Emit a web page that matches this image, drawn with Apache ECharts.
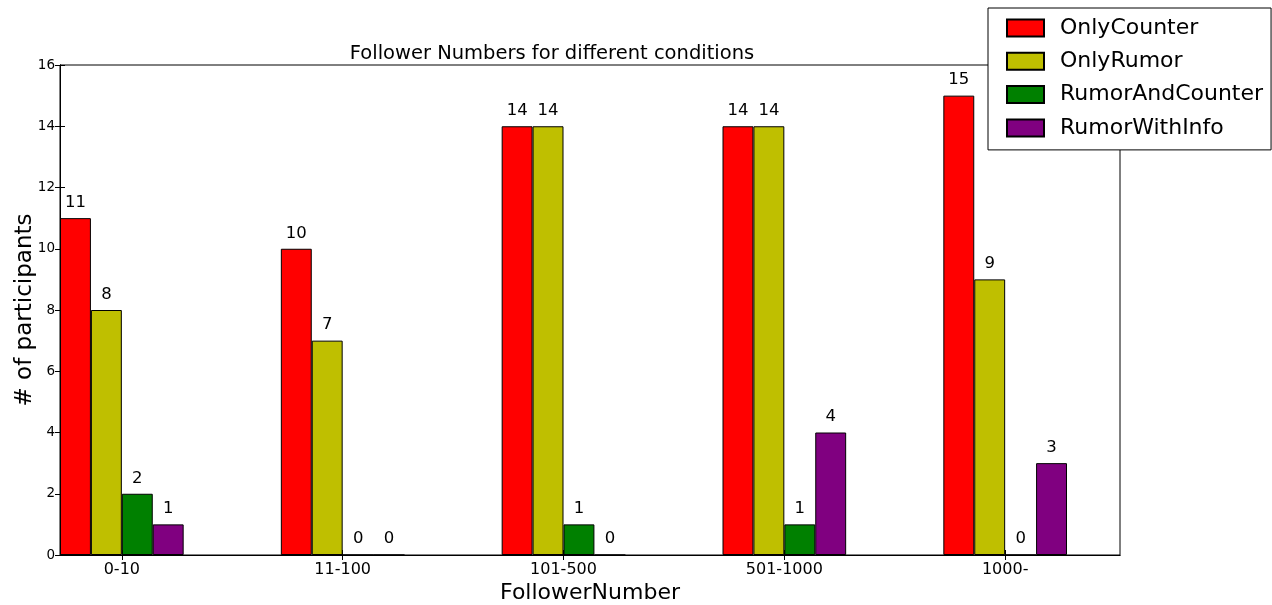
<!DOCTYPE html>
<html>
<head>
<meta charset="utf-8">
<script src="https://cdn.jsdelivr.net/npm/echarts@6/dist/echarts.min.js"></script>
<style>
html,body{margin:0;padding:0;background:#fff;}
#c{width:1272px;height:605px;}
</style>
</head>
<body>
<div id="c"></div>
<script>
const categories = ['0-10', '11-100', '101-500', '501-1000', '1000-'];
const onlyCounter = [11, 10, 14, 14, 15];
const onlyRumor = [8, 7, 14, 14, 9];
const rumorAndCounter = [2, 0, 1, 1, 0];
const rumorWithInfo = [1, 0, 0, 4, 3];
const seriesNames = ['OnlyCounter', 'OnlyRumor', 'RumorAndCounter', 'RumorWithInfo'];
const seriesColors = ['#ff0000', '#bfbf00', '#008000', '#800080'];
const yTicks = [0, 2, 4, 6, 8, 10, 12, 14, 16];

const BAR_W = 0.14;          // bar width in category units
const X_MAX = 4.8;
const GRID = {left: 60, right: 152, top: 65, bottom: 50};
const plotW = 1272 - GRID.left - GRID.right;
const barPx = plotW / X_MAX * BAR_W;
const tickPos = categories.map((c, i) => i + 2 * BAR_W);
const allValues = [onlyCounter, onlyRumor, rumorAndCounter, rumorWithInfo];

const chart = echarts.init(document.getElementById('c'), null, {renderer: 'canvas'});
const FONT = 'DejaVu Sans';

const series = allValues.map((vals, k) => ({
  name: seriesNames[k],
  type: 'bar',
  barWidth: barPx,
  barGap: '-100%',
  data: vals.map((v, i) => [i + k * BAR_W + BAR_W / 2, v]),
  itemStyle: {color: seriesColors[k], borderColor: '#000', borderWidth: 1},
  label: {show: true, position: 'top', distance: 7, color: '#000', fontSize: 16.5, fontFamily: FONT,
          formatter: p => p.value[1]},
  emphasis: {disabled: true},
  animation: false
}));

chart.setOption({
  animation: false,
  backgroundColor: '#fff',
  title: {
    text: 'Follower Numbers for different conditions',
    left: 547, top: 39, textAlign: 'center',
    textStyle: {fontFamily: FONT, fontSize: 19.5, fontWeight: 'normal', color: '#000'}
  },
  legend: {
    orient: 'vertical', left: 988, top: 8,
    data: seriesNames.map(n => ({name: n, icon: 'rect'})),
    backgroundColor: '#fff', borderColor: '#000', borderWidth: 1,
    padding: [9, 8, 11, 18],
    itemWidth: 37, itemHeight: 17, itemGap: 11.3,
    textStyle: {fontFamily: FONT, fontSize: 22, color: '#000', padding: [0, 0, 0, 11]},
    selectedMode: false
  },
  grid: {left: GRID.left, right: GRID.right, top: GRID.top, bottom: GRID.bottom,
         show: true, borderColor: '#000', borderWidth: 1, containLabel: false, outerBoundsMode: 'none'},
  xAxis: [{
    type: 'value', min: 0, max: X_MAX, position: 'bottom',
    name: 'FollowerNumber', nameLocation: 'middle', nameGap: 27, nameMoveOverlap: false,
    nameTextStyle: {fontFamily: FONT, fontSize: 22, color: '#000'},
    axisLine: {show: true, lineStyle: {color: '#000', width: 1}},
    axisTick: {show: true, inside: true, length: 5, customValues: tickPos, lineStyle: {color: '#000'}},
    axisLabel: {show: true, customValues: tickPos, margin: 7, fontFamily: FONT, fontSize: 16, color: '#000',
                formatter: v => categories[Math.round(v - 2 * BAR_W)]},
    splitLine: {show: false}
  }, {
    type: 'value', min: 0, max: X_MAX, position: 'top',
    axisLine: {show: true, lineStyle: {color: '#000', width: 1}},
    axisTick: {show: true, inside: true, length: 5, customValues: tickPos, lineStyle: {color: '#000'}},
    axisLabel: {show: false},
    splitLine: {show: false}
  }],
  yAxis: [{
    type: 'value', min: 0, max: 16, interval: 2, position: 'left',
    name: '# of participants', nameLocation: 'middle', nameGap: 23, nameRotate: 90, nameMoveOverlap: false,
    nameTextStyle: {fontFamily: FONT, fontSize: 23, color: '#000'},
    axisLine: {show: true, lineStyle: {color: '#000', width: 1}},
    axisTick: {show: true, inside: true, length: 5, lineStyle: {color: '#000'}},
    axisLabel: {show: true, margin: 5, fontFamily: FONT, fontSize: 13.5, color: '#000',
                formatter: v => String(v)},
    splitLine: {show: false}
  }, {
    type: 'value', min: 0, max: 16, interval: 2, position: 'right',
    axisLine: {show: true, lineStyle: {color: '#000', width: 1}},
    axisTick: {show: true, inside: true, length: 5, lineStyle: {color: '#000'}},
    axisLabel: {show: false},
    splitLine: {show: false}
  }],
  series: series
});
</script>
</body>
</html>
